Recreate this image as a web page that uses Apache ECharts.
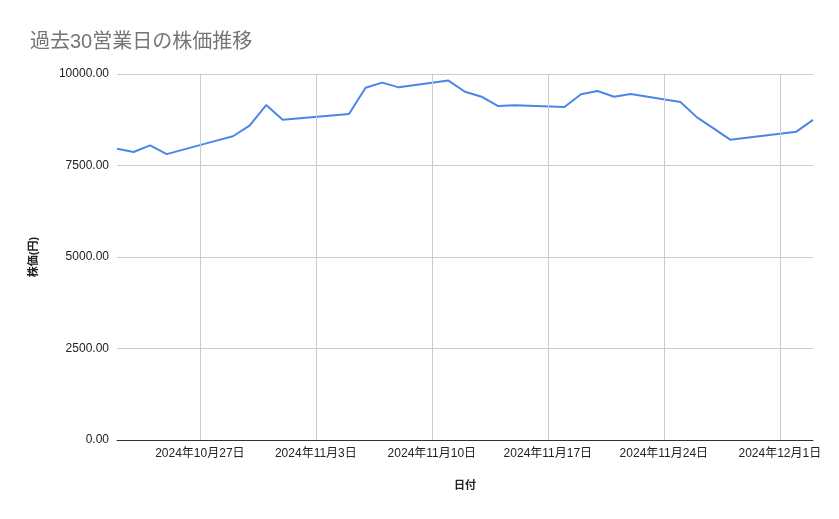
<!DOCTYPE html>
<html>
<head>
<meta charset="utf-8">
<script src="https://cdn.jsdelivr.net/npm/echarts@6/dist/echarts.min.js"></script>
<style>
html,body{margin:0;padding:0;background:#fff;}
#c{width:839px;height:519px;}
</style>
</head>
<body>
<div id="c"></div>
<script>
const dates = ['2024-10-22','2024-10-23','2024-10-24','2024-10-25','2024-10-28','2024-10-29','2024-10-30','2024-10-31','2024-11-01','2024-11-05','2024-11-06','2024-11-07','2024-11-08','2024-11-11','2024-11-12','2024-11-13','2024-11-14','2024-11-15','2024-11-18','2024-11-19','2024-11-20','2024-11-21','2024-11-22','2024-11-25','2024-11-26','2024-11-27','2024-11-28','2024-11-29','2024-12-02','2024-12-03'];
const prices = [7955,7870,8050,7810,8180,8300,8590,9150,8750,8905,9625,9765,9635,9820,9515,9380,9125,9145,9100,9445,9535,9380,9455,9235,8815,8515,8205,8260,8425,8745];
const xTicks = ['2024-10-27','2024-11-03','2024-11-10','2024-11-17','2024-11-24','2024-12-01'];
const xRange = ['2024-10-22','2024-12-03'];
const yTicks = [0,2500,5000,7500,10000];

const ts = s => new Date(s + 'T00:00:00Z').getTime();
const fmtDate = v => { const d = new Date(v); return d.getUTCFullYear() + '年' + (d.getUTCMonth()+1) + '月' + d.getUTCDate() + '日'; };
const font = "Arial, 'Liberation Sans', 'Noto Sans CJK JP', sans-serif";
const points = dates.map((d,i) => [ts(d), prices[i]]);
const tickVals = xTicks.map(ts);

const chart = echarts.init(document.getElementById('c'), null, {renderer:'canvas'});
chart.setOption({
  backgroundColor:'#fff',
  animation:false,
  title:{
    text:'過去30営業日の株価推移',
    left:25, top:27,
    textStyle:{color:'#757575', fontSize:20, fontWeight:'normal', fontFamily:font}
  },
  grid:{left:117, right:26, top:74, bottom:79, containLabel:false, outerBoundsMode:'none'},
  xAxis:{
    type:'value',
    min: ts(xRange[0]), max: ts(xRange[1]),
    name:'日付', nameLocation:'middle', nameGap:40,
    nameTextStyle:{color:'#222', fontSize:11, fontFamily:font, fontWeight:'bold'},
    axisLine:{show:true, lineStyle:{color:'#333', width:1}},
    axisTick:{show:false, customValues: tickVals},
    splitLine:{show:false},
    axisLabel:{
      customValues: tickVals,
      formatter: fmtDate,
      color:'#222', fontSize:12, fontFamily:font, margin:8
    }
  },
  yAxis:{
    type:'value',
    min: yTicks[0], max: yTicks[yTicks.length-1], interval: yTicks[1]-yTicks[0],
    name:'株価(円)', nameLocation:'middle', nameGap:78, nameRotate:90,
    nameTextStyle:{color:'#222', fontSize:11, fontFamily:font, fontWeight:'bold'},
    axisLine:{show:false}, axisTick:{show:false},
    splitLine:{show:true, lineStyle:{color:'#cccccc', width:1}},
    axisLabel:{formatter: v => v.toFixed(2), color:'#222', fontSize:12, fontFamily:font, margin:8}
  },
  series:[
    {
      type:'line', data: points, z:1, silent:true,
      symbol:'none', lineStyle:{opacity:0}, tooltip:{show:false},
      markLine:{
        silent:true, symbol:'none', label:{show:false}, animation:false,
        lineStyle:{color:'#cccccc', type:'solid', width:1},
        data: tickVals.map(v => ({xAxis: v}))
      }
    },
    {
      type:'line', data: points, z:3,
      symbol:'none', smooth:false,
      lineStyle:{color:'#4a86e8', width:2},
      itemStyle:{color:'#4a86e8'}
    }
  ]
});
</script>
</body>
</html>
